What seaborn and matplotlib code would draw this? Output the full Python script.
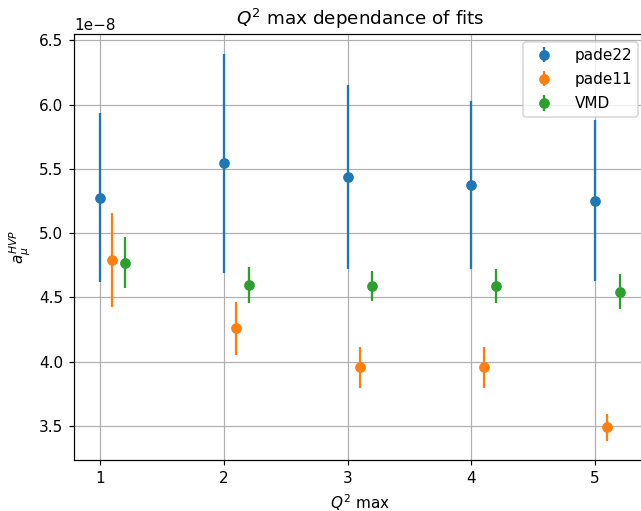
import matplotlib
matplotlib.use("Agg")
import matplotlib.pyplot as plt
import numpy as np
import pandas as pd
import seaborn as sns

# Fit results for a_mu^HVP (units of 1e-8) versus the Q^2 cut
q2_max = [1, 2, 3, 4, 5]
series_names = ["pade22", "pade11", "VMD"]
x_shift = [0.0, 0.1, 0.2]

pade22_val = [5.277, 5.544, 5.434, 5.374, 5.254]
pade22_err = [0.654, 0.852, 0.716, 0.651, 0.625]
pade11_val = [4.790, 4.259, 3.956, 3.956, 3.490]
pade11_err = [0.365, 0.207, 0.156, 0.156, 0.103]
vmd_val = [4.772, 4.596, 4.590, 4.587, 4.546]
vmd_err = [0.195, 0.138, 0.118, 0.131, 0.134]

scale = 1e-8

rows = []
for name, shift, vals, errs in zip(
    series_names, x_shift,
    [pade22_val, pade11_val, vmd_val],
    [pade22_err, pade11_err, vmd_err],
):
    for q, v, e in zip(q2_max, vals, errs):
        rows.append({"fit": name, "q2": q + shift, "value": v * scale, "err": e * scale})
df = pd.DataFrame(rows)

sns.reset_orig()
plt.rcParams["axes.grid"] = True
palette = sns.color_palette("tab10", 3)

dpi = 110
fig = plt.figure(figsize=(641 / dpi, 511 / dpi), dpi=dpi)
ax = fig.add_axes([0.1154, 0.0998, 0.8922, 0.8331])

for name, color in zip(series_names, palette):
    sub = df[df["fit"] == name]
    ax.errorbar(sub["q2"], sub["value"], yerr=sub["err"], fmt="o",
                color=color, label=name)

ax.set_xticks(q2_max)
ax.set_title(r"$Q^2$ max dependance of fits")
ax.set_xlabel(r"$Q^2$ max")
ax.set_ylabel(r"$a_\mu^{HVP}$")
ax.legend(loc="upper right", handletextpad=1.0, labelspacing=0.6)

fig.savefig("out.png", dpi=dpi)
